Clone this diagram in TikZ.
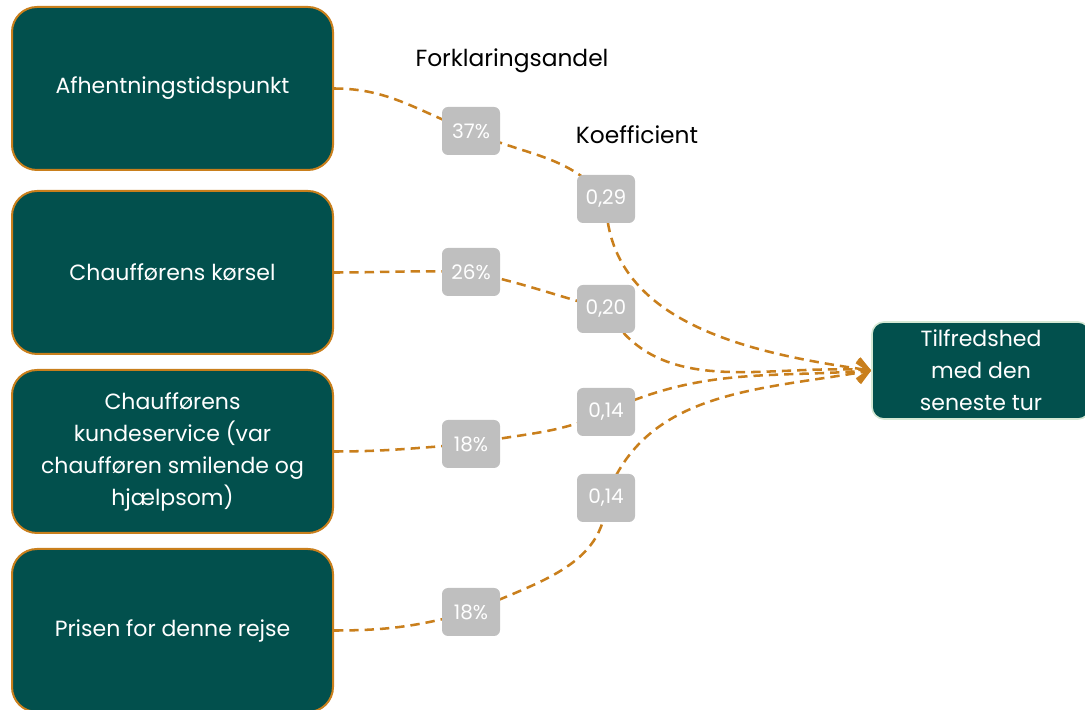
\documentclass[tikz,border=0pt]{standalone}
\usepackage{fontspec}
\setmainfont{Poppins}
\usepackage{tikz}
\usetikzlibrary{arrows.meta,backgrounds}

\definecolor{boxteal}{HTML}{02504D}
\definecolor{linkorange}{HTML}{C97F1C}
\definecolor{taggray}{HTML}{BFBFBF}
\definecolor{targetrim}{HTML}{D5E8D4}

\begin{document}
\begin{tikzpicture}[x=0.75pt, y=0.75pt,
  factor/.style={draw=linkorange, line width=1.5pt, fill=boxteal, rounded corners=18.75pt,
    minimum width=240.75pt, minimum height=122.25pt, text=white, align=center,
    font=\fontsize{16.5}{24}\selectfont},
  tag/.style={fill=taggray, rounded corners=4.5pt, minimum width=43.5pt, minimum height=36pt,
    text=white, font=\fontsize{15}{16}\selectfont},
  heading/.style={font=\fontsize{17.5}{20}\selectfont},
  link/.style={draw=linkorange, line width=1.9pt, dash pattern=on 7pt off 4.5pt,
    -{Straight Barb[length=8.5pt,width=16pt]}}]
\useasboundingbox (0,0) rectangle (1085,710);

% drivers
\node[factor] (f1) at (172.5,621.5) {Afhentningstidspunkt};
\node[factor] (f2) at (172.5,437.5) {Chaufførens kørsel};
\node[factor] (f3) at (172.5,258.5) {Chaufførens\\kundeservice (var\\chaufføren smilende og\\hjælpsom)};
\node[factor] (f4) at (172.5,79.5) {Prisen for denne rejse};

% outcome
\node[draw=targetrim, line width=1.2pt, fill=boxteal, rounded corners=9pt, minimum width=163.5pt,
  minimum height=72.75pt, text=white, align=center, font=\fontsize{16.5}{24}\selectfont]
  (t) at (981,339.5) {Tilfredshed\\med den\\seneste tur};

% headings
\node[heading] (hshare) at (512,649) {Forklaringsandel};
\node[heading] (hcoef) at (637,575) {Koefficient};

% shares and coefficients
\foreach \n/\x/\y/\t in {p1/471/579/37\%, p2/471/438/26\%, p3/471/266/18\%, p4/471/98/18\%,
    k1/606/511/{0,29}, k2/606/401/{0,20}, k3/606/298/{0,14}, k4/606/212/{0,14}}
  \node[tag] (\n) at (\x,\y) {\t};

\begin{scope}[on background layer]
\draw[link] (f1.east) to[out=0,in=160] (p1.center) to[out=-25,in=130] (k1.center)
  to[out=-90,in=172] (t.west);
\draw[link] (f2.east) to[out=0,in=178] (p2.center) to[out=-12,in=165] (k2.center)
  to[out=-60,in=176] (t.west);
\draw[link] (f3.east) to[out=0,in=184] (p3.center) to[out=12,in=205] (k3.center)
  to[out=25,in=184] (t.west);
\draw[link] (f4.east) to[out=0,in=195] (p4.center) to[out=25,in=-90] (k4.center)
  to[out=70,in=190] (t.west);
\end{scope}
\end{tikzpicture}
\end{document}
